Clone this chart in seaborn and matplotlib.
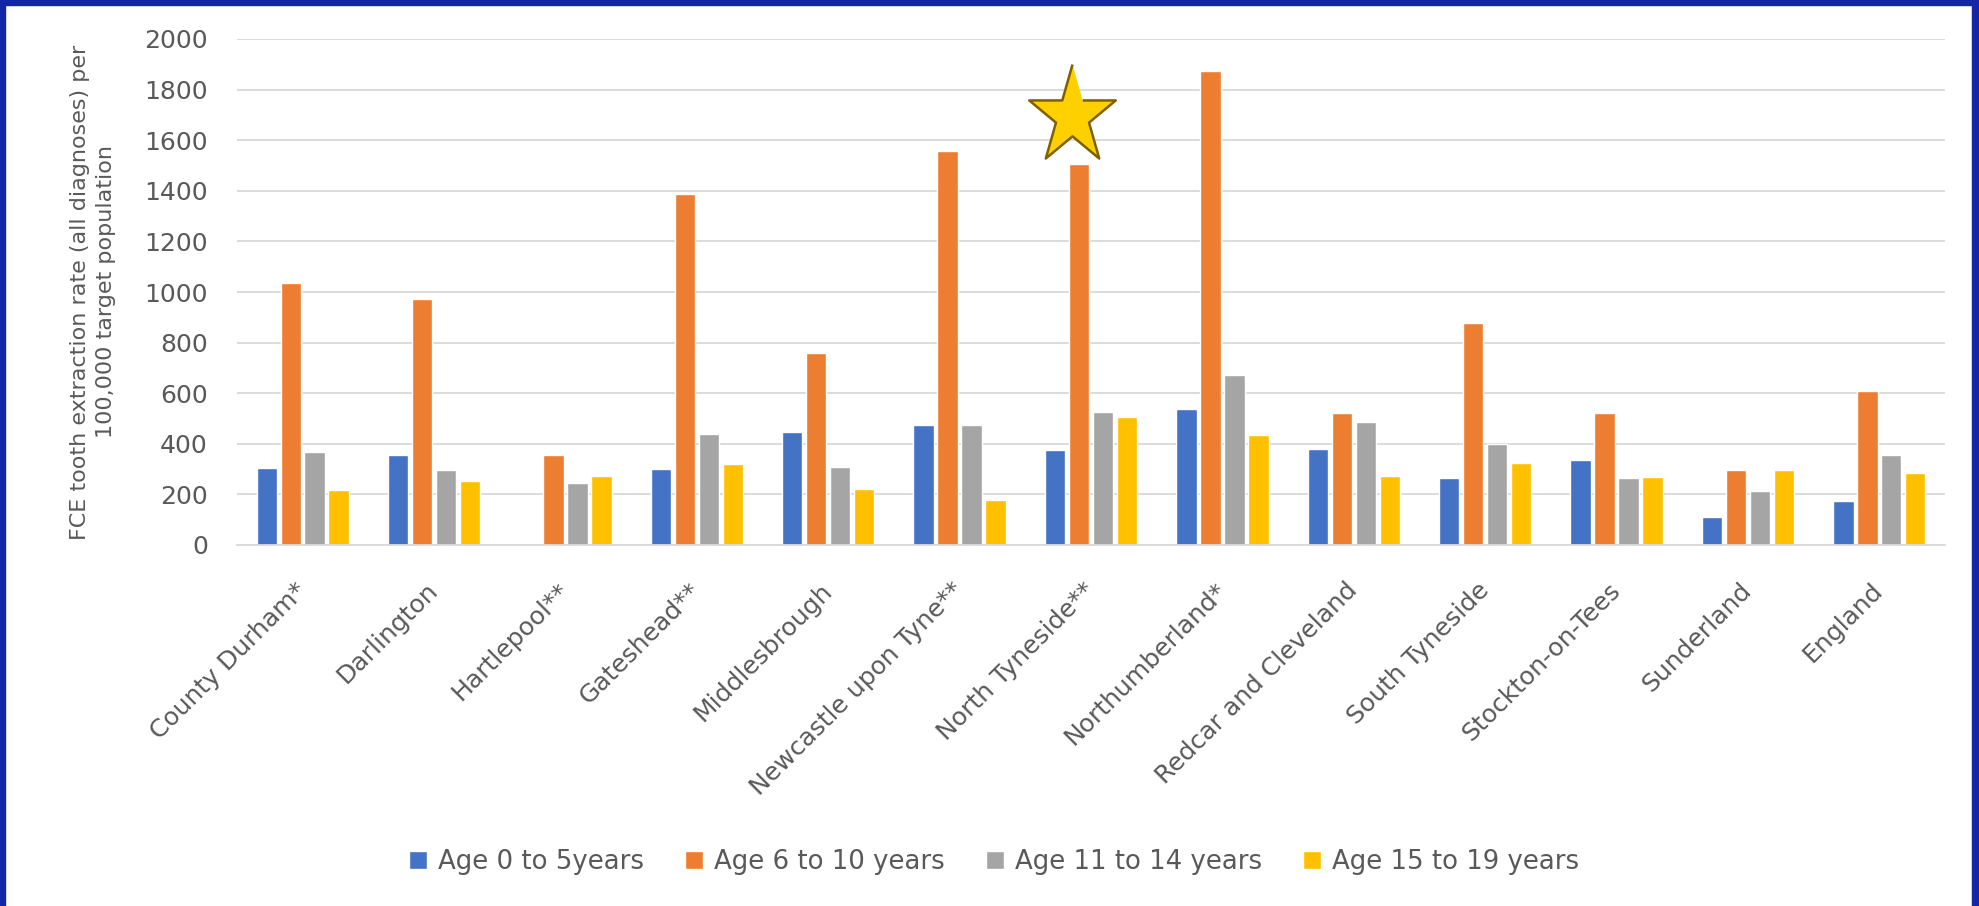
import matplotlib
matplotlib.use("Agg")
import matplotlib.pyplot as plt
from matplotlib.patches import Rectangle
import seaborn as sns
import pandas as pd
import numpy as np

sns.set_theme(style="white")
plt.rcParams['font.family'] = ['DejaVu Sans']

# values (rate per 100,000)
areas = ["County Durham*", "Darlington", "Hartlepool**", "Gateshead**", "Middlesbrough",
         "Newcastle upon Tyne**", "North Tyneside**", "Northumberland*",
         "Redcar and Cleveland", "South Tyneside", "Stockton-on-Tees", "Sunderland", "England"]
age_0_5 = [305, 357, np.nan, 302, 448, 476, 374, 538, 381, 263, 335, 112, 172]
age_6_10 = [1037, 972, 357, 1386, 757, 1559, 1504, 1874, 521, 876, 521, 297, 610]
age_11_14 = [368, 297, 247, 437, 308, 476, 527, 672, 487, 398, 263, 212, 357]
age_15_19 = [216, 251, 274, 319, 223, 178, 504, 436, 274, 325, 268, 297, 285]
age_groups = ["Age 0 to 5years", "Age 6 to 10 years", "Age 11 to 14 years", "Age 15 to 19 years"]
colors = ["#4472C4", "#ED7D31", "#A5A5A5", "#FFC000"]

rows = []
for grp, vals in zip(age_groups, [age_0_5, age_6_10, age_11_14, age_15_19]):
    for a, v in zip(areas, vals):
        rows.append([a, grp, v])
df = pd.DataFrame(rows, columns=["Area", "Age", "Rate"])

txt = "#595959"
W, H = 1979, 906
fig = plt.figure(figsize=(W / 100, H / 100), dpi=100, facecolor="white")
ax = fig.add_axes([237 / W, 1 - 545 / H, (1945 - 237) / W, (545 - 39) / H])

sns.barplot(data=df, x="Area", y="Rate", hue="Age", order=areas, hue_order=age_groups,
            palette=colors, saturation=1, width=0.73, gap=0.15, errorbar=None, ax=ax)

ax.set_xlim(-0.5, len(areas) - 0.5)
ax.set_ylim(0, 2000)
ax.set_yticks(range(0, 2001, 200))
ax.yaxis.grid(True, color="#D9D9D9", linewidth=1.3)
ax.set_axisbelow(True)
for s in ["top", "left", "right"]:
    ax.spines[s].set_visible(False)
ax.spines["bottom"].set_color("#D9D9D9")
ax.spines["bottom"].set_linewidth(1.3)

ax.tick_params(axis="y", length=0, pad=21, labelsize=18, labelcolor=txt)
ax.tick_params(axis="x", length=0, pad=30, labelsize=18, labelcolor=txt)
ax.set_xticks(range(len(areas)))
ax.set_xticklabels(areas, rotation=45, ha="right", va="center", rotation_mode="anchor")
ax.set_xlabel("")
ax.set_ylabel("FCE tooth extraction rate (all diagnoses) per\n100,000 target population",
              fontsize=16, color=txt, linespacing=1.35)
ax.yaxis.set_label_coords((93 - 237) / (1945 - 237), 0.5)
ax.yaxis.label.set_va("center")

# star highlight over North Tyneside (slightly tall star shape)
ang = np.pi / 2 + np.arange(10) * np.pi / 5
rad = np.where(np.arange(10) % 2 == 0, 1.0, 0.382)
star = np.column_stack([0.875 * rad * np.cos(ang), rad * np.sin(ang)])
ax.scatter([5.854], [1694], marker=star, s=5600, c="#FFD000", edgecolors="#7F6000",
           linewidths=1.8, zorder=5, clip_on=False)

handles, labels = ax.get_legend_handles_labels()
ax.get_legend().remove()
fig.legend(handles, labels, loc="center", bbox_to_anchor=(994 / W, 1 - 862 / H), ncol=4,
           frameon=False, fontsize=18.7, handlelength=0.7, handleheight=0.7,
           handletextpad=0.4, columnspacing=1.6, labelcolor=txt)

# blue frame (left, top, right)
blue = "#1226A6"
fig.patches.append(Rectangle((0, 0), 5 / W, 1, transform=fig.transFigure, color=blue))
fig.patches.append(Rectangle((0, 1 - 5 / H), 1, 5 / H, transform=fig.transFigure, color=blue))
fig.patches.append(Rectangle((1 - 7 / W, 0), 7 / W, 1, transform=fig.transFigure, color=blue))

fig.savefig("out.png", dpi=100, facecolor="white")
